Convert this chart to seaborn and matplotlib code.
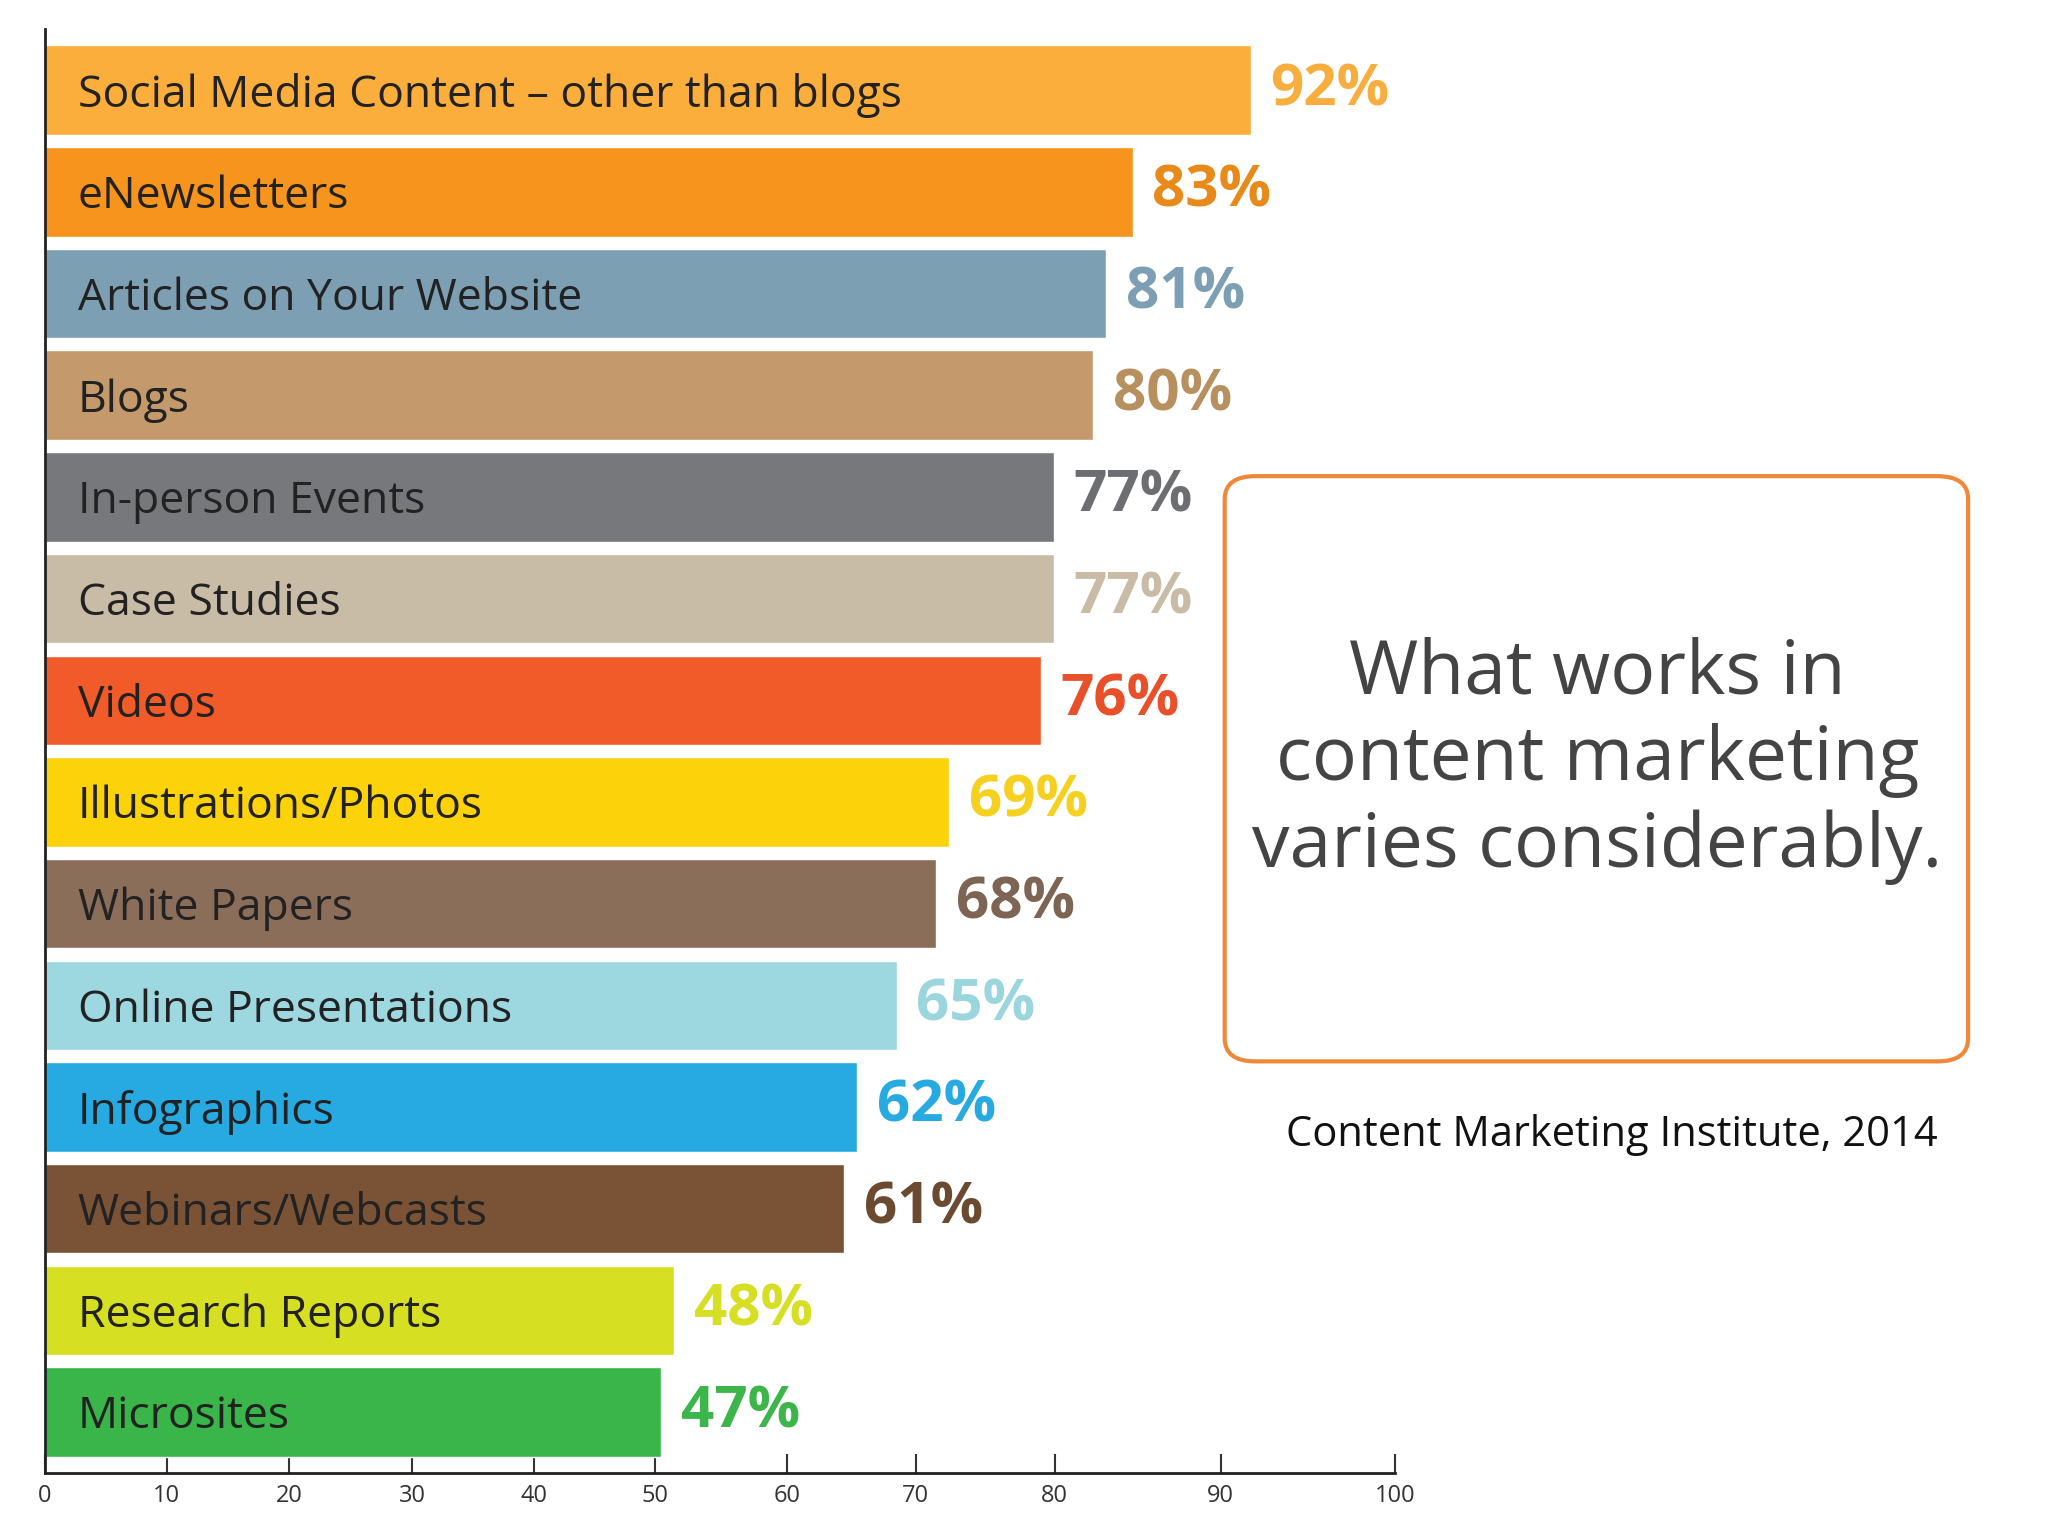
import matplotlib
matplotlib.use('Agg')
import matplotlib.pyplot as plt
import seaborn as sns
import pandas as pd
from matplotlib.patches import FancyBboxPatch

categories = ['Social Media Content \u2013 other than blogs', 'eNewsletters', 'Articles on Your Website',
              'Blogs', 'In-person Events', 'Case Studies', 'Videos', 'Illustrations/Photos',
              'White Papers', 'Online Presentations', 'Infographics', 'Webinars/Webcasts',
              'Research Reports', 'Microsites']
values = [92, 83, 81, 80, 77, 77, 76, 69, 68, 65, 62, 61, 48, 47]
colors = ['#fbae3c', '#f7941d', '#7d9fb3', '#c49a6c', '#77787b', '#c9bca6', '#f15a29', '#fcd20b',
          '#8b6e5a', '#9dd7e0', '#27aae1', '#7a5235', '#d7df23', '#39b54a']
label_colors = ['#f8ae3e', '#e88a1a', '#7d9fb3', '#b8905f', '#6d6e71', '#c9bba5', '#e8502a', '#f5d020',
                '#7d6453', '#9bd6df', '#27aae1', '#6b4a30', '#d6df23', '#3cb54a']
tick_labels = ['0', '10', '20', '30', '40', '50', '60', '70', '80', '90', '100']
# the source's axis is not evenly spaced; tick spots copied from it (as fraction of axis width)
tick_frac = [0.0, 0.090, 0.181, 0.272, 0.362, 0.452, 0.550, 0.645, 0.748, 0.871, 1.0]

df = pd.DataFrame({'cat': categories, 'val': values})

sns.set_style('white')
plt.rcParams['font.family'] = ['Open Sans', 'DejaVu Sans']
fig = plt.figure(figsize=(20.48, 15.36), dpi=100)
ax = fig.add_axes([0.022, 0.041, 0.659, 0.94])
sns.barplot(data=df, x='val', y='cat', hue='cat', palette=colors, legend=False,
            width=0.88, ax=ax, orient='h', saturation=1)
xmax = 103
ax.set_xlim(0, xmax)
ax.set_ylim(13.6, -0.6)
ax.set_xticks([f * xmax for f in tick_frac])
ax.set_xticklabels(tick_labels)
ax.tick_params(axis='x', bottom=True, direction='in', length=14, width=1.5, labelsize=17,
               colors='#333333', pad=8)
ax.set_yticks([])
ax.set_xlabel('')
ax.set_ylabel('')
for s in ['top', 'right']:
    ax.spines[s].set_visible(False)
for s in ['left', 'bottom']:
    ax.spines[s].set_color('#222222')
    ax.spines[s].set_linewidth(2)

for i, (c, v) in enumerate(zip(categories, values)):
    ax.text(2.5, i + 0.05, c, va='center', ha='left', fontsize=32, color='#222222')
    ax.text(v + 1.5, i, f'{v}%', va='center', ha='left', fontsize=42, fontweight='bold',
            color=label_colors[i])

box = FancyBboxPatch((0.598, 0.309), 0.363, 0.381, boxstyle='round,pad=0,rounding_size=0.015',
                     transform=fig.transFigure, facecolor='white', edgecolor='#f0883a', linewidth=3)
fig.patches.append(box)
fig.text(0.78, 0.505, 'What works in\ncontent marketing\nvaries considerably.', ha='center', va='center',
         fontsize=54, color='#444444', linespacing=1.2)
fig.text(0.787, 0.261, 'Content Marketing Institute, 2014', ha='center', va='center',
         fontsize=30, color='#111111')

fig.savefig('out.png', dpi=100)
